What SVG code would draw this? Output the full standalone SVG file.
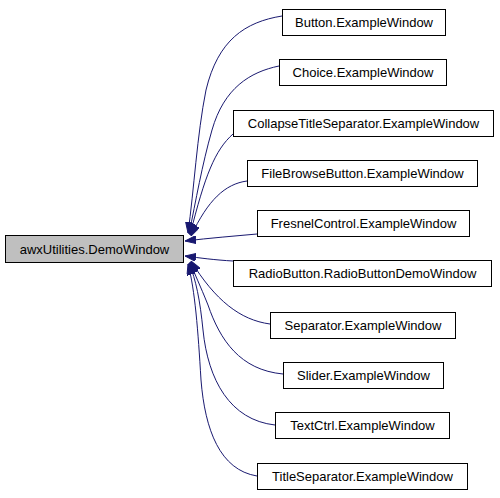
<svg xmlns="http://www.w3.org/2000/svg" width="500" height="498" viewBox="0 0 500 498">
<style>
.n rect{fill:#fff;stroke:#000;stroke-width:1}
.n text{font-family:"Liberation Sans",Arial,sans-serif;font-size:13px;fill:#000;text-anchor:middle}
.e path{fill:none;stroke:#191970;stroke-width:1}
</style>
<defs>
<marker id="ah" viewBox="0 0 11 8" refX="11" refY="4" markerWidth="11" markerHeight="8" markerUnits="userSpaceOnUse" orient="auto">
<path d="M0,0 L11,4 L0,8 z" fill="#191970" stroke="#191970"/>
</marker>
</defs>
<rect width="500" height="498" fill="#fff"/>
<g class="e">
<path d="M282,16 C245,22 218,40 206,90 C197,135 194,190 188,233" marker-end="url(#ah)"/>
<path d="M279,66 C250,72 224,88 212,130 C202,165 196,200 189,234" marker-end="url(#ah)"/>
<path d="M233,134 C215,150 205,175 190,235" marker-end="url(#ah)"/>
<path d="M247,181 C225,184 208,200 191,236" marker-end="url(#ah)"/>
<path d="M257,234 C235,236 210,238 185,241" marker-end="url(#ah)"/>
<path d="M233,261 C215,260 200,258 185,256" marker-end="url(#ah)"/>
<path d="M270,324 C240,320 215,300 191,261" marker-end="url(#ah)"/>
<path d="M283,374 C240,370 220,340 208,305 C200,285 195,275 190,262" marker-end="url(#ah)"/>
<path d="M275,425 C230,420 208,380 203,330 C200,300 196,280 189,263" marker-end="url(#ah)"/>
<path d="M257,476 C220,470 205,430 201,380 C198,330 195,290 188,264" marker-end="url(#ah)"/>
</g>
<g id="main" class="n"><rect x="5.5" y="235.5" width="178" height="27" style="fill:#bfbfbf"/><text x="94.5" y="253.5">awxUtilities.DemoWindow</text></g>
<g id="button" class="n"><rect x="282.5" y="9.5" width="163" height="26"/><text x="364" y="27">Button.ExampleWindow</text></g>
<g id="choice" class="n"><rect x="279.5" y="59.5" width="167" height="26"/><text x="363" y="77">Choice.ExampleWindow</text></g>
<g id="collapse" class="n"><rect x="233.5" y="110.5" width="260" height="26"/><text x="363.5" y="128">CollapseTitleSeparator.ExampleWindow</text></g>
<g id="filebrowse" class="n"><rect x="247.5" y="160.5" width="230" height="26"/><text x="362.5" y="178">FileBrowseButton.ExampleWindow</text></g>
<g id="fresnel" class="n"><rect x="257.5" y="210.5" width="212" height="26"/><text x="363.5" y="228">FresnelControl.ExampleWindow</text></g>
<g id="radio" class="n"><rect x="233.5" y="260.5" width="258" height="26"/><text x="362.5" y="278">RadioButton.RadioButtonDemoWindow</text></g>
<g id="separator" class="n"><rect x="270.5" y="312.5" width="185" height="26"/><text x="363" y="330">Separator.ExampleWindow</text></g>
<g id="slider" class="n"><rect x="283.5" y="362.5" width="160" height="26"/><text x="363.5" y="380">Slider.ExampleWindow</text></g>
<g id="textctrl" class="n"><rect x="275.5" y="412.5" width="174" height="26"/><text x="362.5" y="430">TextCtrl.ExampleWindow</text></g>
<g id="title" class="n"><rect x="257.5" y="463.5" width="210" height="26"/><text x="362.5" y="481">TitleSeparator.ExampleWindow</text></g>
</svg>
